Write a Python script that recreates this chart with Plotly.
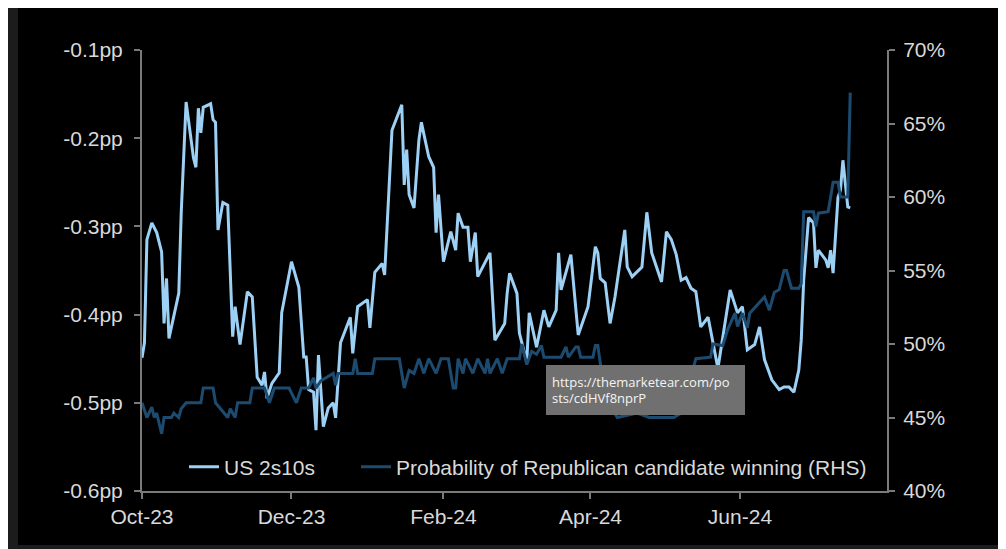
import plotly.graph_objects as go

# ---------------- data ----------------
spread_dates = [
    "2023-10-01", "2023-10-02", "2023-10-03", "2023-10-05", "2023-10-07", "2023-10-09", "2023-10-10",
    "2023-10-11", "2023-10-12", "2023-10-16", "2023-10-17", "2023-10-19", "2023-10-22", "2023-10-23",
    "2023-10-24", "2023-10-25", "2023-10-26", "2023-10-29", "2023-10-30", "2023-10-31", "2023-11-01",
    "2023-11-03", "2023-11-05", "2023-11-07", "2023-11-08", "2023-11-10", "2023-11-13", "2023-11-15",
    "2023-11-17", "2023-11-19", "2023-11-20", "2023-11-21", "2023-11-23", "2023-11-26", "2023-11-27",
    "2023-12-01", "2023-12-04", "2023-12-06", "2023-12-07", "2023-12-08", "2023-12-10", "2023-12-11",
    "2023-12-12", "2023-12-14", "2023-12-16", "2023-12-18", "2023-12-19", "2023-12-21", "2023-12-25",
    "2023-12-26", "2023-12-28", "2024-01-01", "2024-01-02", "2024-01-04", "2024-01-07", "2024-01-08",
    "2024-01-11", "2024-01-15", "2024-01-16", "2024-01-17", "2024-01-18", "2024-01-20", "2024-01-22",
    "2024-01-23", "2024-01-26", "2024-01-28", "2024-01-29", "2024-01-30", "2024-02-01", "2024-02-04",
    "2024-02-06", "2024-02-07", "2024-02-09", "2024-02-11", "2024-02-12", "2024-02-14", "2024-02-15",
    "2024-02-20", "2024-02-22", "2024-02-26", "2024-02-27", "2024-02-28", "2024-03-02", "2024-03-03",
    "2024-03-06", "2024-03-07", "2024-03-10", "2024-03-13", "2024-03-15", "2024-03-18", "2024-03-19",
    "2024-03-20", "2024-03-24", "2024-03-25", "2024-03-27", "2024-03-31", "2024-04-03", "2024-04-04",
    "2024-04-05", "2024-04-07", "2024-04-09", "2024-04-11", "2024-04-15", "2024-04-16", "2024-04-18",
    "2024-04-22", "2024-04-24", "2024-04-26", "2024-04-30", "2024-05-02", "2024-05-04", "2024-05-06",
    "2024-05-08", "2024-05-10", "2024-05-12", "2024-05-14", "2024-05-16", "2024-05-19", "2024-05-21",
    "2024-05-23", "2024-05-28", "2024-05-31", "2024-06-02", "2024-06-04", "2024-06-07", "2024-06-09",
    "2024-06-11", "2024-06-14", "2024-06-17", "2024-06-19", "2024-06-21", "2024-06-23", "2024-06-25",
    "2024-06-26", "2024-06-27", "2024-06-29", "2024-07-01", "2024-07-02", "2024-07-03", "2024-07-06",
    "2024-07-07", "2024-07-08", "2024-07-09", "2024-07-11", "2024-07-12", "2024-07-13", "2024-07-15",
    "2024-07-16",
]
spread_values = [
    -0.449, -0.432, -0.315, -0.296, -0.307, -0.329, -0.410,
    -0.359, -0.427, -0.376, -0.285, -0.159, -0.222, -0.233,
    -0.166, -0.194, -0.165, -0.161, -0.179, -0.182, -0.304,
    -0.273, -0.276, -0.425, -0.391, -0.434, -0.374, -0.380,
    -0.471, -0.480, -0.465, -0.495, -0.478, -0.466, -0.398,
    -0.340, -0.369, -0.448, -0.448, -0.485, -0.488, -0.531,
    -0.446, -0.527, -0.506, -0.500, -0.517, -0.432, -0.403,
    -0.444, -0.391, -0.383, -0.415, -0.352, -0.342, -0.355,
    -0.191, -0.162, -0.253, -0.213, -0.264, -0.279, -0.202,
    -0.182, -0.221, -0.233, -0.307, -0.264, -0.340, -0.306,
    -0.327, -0.285, -0.301, -0.301, -0.340, -0.307, -0.357,
    -0.330, -0.429, -0.410, -0.376, -0.353, -0.376, -0.421,
    -0.454, -0.398, -0.437, -0.395, -0.414, -0.395, -0.330,
    -0.372, -0.332, -0.361, -0.423, -0.391, -0.323, -0.330,
    -0.359, -0.364, -0.410, -0.380, -0.304, -0.346, -0.357,
    -0.346, -0.284, -0.330, -0.363, -0.306, -0.315, -0.332,
    -0.361, -0.358, -0.370, -0.374, -0.414, -0.403, -0.432,
    -0.461, -0.372, -0.398, -0.391, -0.440, -0.434, -0.414,
    -0.451, -0.474, -0.485, -0.482, -0.482, -0.488, -0.463,
    -0.429, -0.361, -0.290, -0.296, -0.347, -0.327, -0.338,
    -0.347, -0.327, -0.353, -0.267, -0.259, -0.225, -0.278,
    -0.279,
]

prob_dates = [
    "2023-10-01", "2023-10-03", "2023-10-05", "2023-10-06", "2023-10-07", "2023-10-09", "2023-10-10",
    "2023-10-13", "2023-10-14", "2023-10-16", "2023-10-17", "2023-10-19", "2023-10-25", "2023-10-26",
    "2023-10-30", "2023-10-31", "2023-11-05", "2023-11-06", "2023-11-08", "2023-11-09", "2023-11-14",
    "2023-11-15", "2023-11-20", "2023-11-21", "2023-11-22", "2023-11-24", "2023-11-30", "2023-12-03",
    "2023-12-05", "2023-12-08", "2023-12-10", "2023-12-11", "2023-12-13", "2023-12-18", "2023-12-19",
    "2023-12-20", "2023-12-26", "2023-12-27", "2023-12-28", "2024-01-03", "2024-01-04", "2024-01-14",
    "2024-01-16", "2024-01-18", "2024-01-20", "2024-01-22", "2024-01-24", "2024-01-26", "2024-01-29",
    "2024-01-31", "2024-02-03", "2024-02-04", "2024-02-05", "2024-02-06", "2024-02-07", "2024-02-09",
    "2024-02-10", "2024-02-13", "2024-02-15", "2024-02-18", "2024-02-19", "2024-02-20", "2024-02-23",
    "2024-02-25", "2024-02-27", "2024-03-03", "2024-03-04", "2024-03-06", "2024-03-08", "2024-03-10",
    "2024-03-12", "2024-03-13", "2024-03-18", "2024-03-20", "2024-03-22", "2024-03-23", "2024-03-26",
    "2024-03-27", "2024-03-28", "2024-04-02", "2024-04-03", "2024-04-04", "2024-04-05", "2024-04-08",
    "2024-04-12", "2024-04-20", "2024-04-25", "2024-05-05", "2024-05-10", "2024-05-12", "2024-05-13",
    "2024-05-14", "2024-05-20", "2024-05-21", "2024-05-25", "2024-05-27", "2024-05-30", "2024-05-31",
    "2024-06-02", "2024-06-04", "2024-06-05", "2024-06-09", "2024-06-11", "2024-06-13", "2024-06-15",
    "2024-06-17", "2024-06-19", "2024-06-20", "2024-06-22", "2024-06-25", "2024-06-26", "2024-06-27",
    "2024-07-01", "2024-07-02", "2024-07-03", "2024-07-07", "2024-07-09", "2024-07-11", "2024-07-12",
    "2024-07-15", "2024-07-16",
]
prob_values = [
    46.0, 45.0, 45.7, 45.0, 45.3, 43.9, 45.0,
    45.0, 45.3, 45.0, 45.6, 46.0, 46.0, 47.0,
    47.0, 46.0, 45.0, 45.6, 45.0, 46.0, 46.0,
    47.0, 47.0, 46.5, 46.0, 47.0, 47.0, 46.0,
    47.0, 47.0, 47.7, 47.0, 47.5, 48.0, 47.2,
    48.0, 48.0, 49.0, 48.0, 48.0, 49.0, 49.0,
    47.0, 48.2, 48.0, 49.0, 48.0, 49.0, 48.0,
    49.0, 49.0, 48.0, 47.0, 47.0, 49.0, 48.0,
    49.0, 48.0, 49.0, 48.0, 49.0, 48.0, 49.0,
    48.0, 49.0, 49.0, 50.0, 48.6, 49.5, 49.3,
    49.9, 49.1, 49.1, 49.1, 49.8, 49.1, 49.8,
    49.8, 49.1, 49.1, 49.9, 49.9, 48.7, 46.0,
    45.0, 45.3, 45.0, 45.0, 45.5, 46.5, 48.4,
    49.0, 49.1, 50.0, 49.9, 51.0, 52.1, 51.2,
    52.1, 51.1, 52.1, 52.8, 53.2, 52.3, 53.5,
    53.7, 55.0, 55.0, 53.8, 53.8, 54.1, 59.0,
    59.0, 58.0, 58.9, 59.0, 61.0, 61.0, 60.0,
    60.0, 67.1,
]

left_tickvals = [-0.6, -0.5, -0.4, -0.3, -0.2, -0.1]
left_ticktext = ["-0.6pp", "-0.5pp", "-0.4pp", "-0.3pp", "-0.2pp", "-0.1pp"]
right_tickvals = [40, 45, 50, 55, 60, 65, 70]
right_ticktext = ["40%", "45%", "50%", "55%", "60%", "65%", "70%"]

series_names = ["US 2s10s", "Probability of Republican candidate winning (RHS)"]
watermark_text = "https://themarketear.com/po<br>sts/cdHVf8nprP"

# ---------------- figure ----------------
W, H = 1006, 549
OFF = 8  # page offset of the figure inside the browser page
# plot area in page pixels
PL, PR, PT, PB = 142, 887, 50, 491
L, R, T, B = PL - OFF, PR - OFF, PT - OFF, PB - OFF

FONT = "Liberation Sans, Arial, sans-serif"
FS = 21
TXT = "#d9d9d9"
AX = "#7a7a7a"
LIGHT = "#9dd0f5"
DARK = "#1d4b70"


def px_x(p):  # page pixel -> paper x
    return (p - OFF - L) / (R - L)


def px_y(p):  # page pixel -> paper y
    return (B - (p - OFF)) / (B - T)


fig = go.Figure()
fig.add_trace(go.Scatter(
    x=prob_dates, y=prob_values, name=series_names[1], yaxis="y2",
    mode="lines", line=dict(color=DARK, width=3), legend="legend2",
))
fig.add_trace(go.Scatter(
    x=spread_dates, y=spread_values, name=series_names[0], yaxis="y",
    mode="lines", line=dict(color=LIGHT, width=3), legend="legend",
))

axis_common = dict(
    showgrid=False, zeroline=False,
    showline=True, linecolor=AX, linewidth=2,
    ticks="outside", ticklen=6, tickcolor=AX, tickwidth=2,
    tickfont=dict(family=FONT, size=FS, color=TXT),
)

legend_common = dict(
    orientation="h", xanchor="left", yanchor="middle",
    bgcolor="rgba(0,0,0,0)", font=dict(family=FONT, size=FS, color=TXT),
)

fig.update_layout(
    width=W, height=H,
    margin=dict(l=L, r=W - R, t=T, b=H - B, pad=0),
    paper_bgcolor="#1c1c1c",
    plot_bgcolor="#000000",
    font=dict(family=FONT, size=FS, color=TXT),
    hovermode=False,
    showlegend=True,
    legend=dict(x=px_x(184), y=px_y(467), **legend_common),
    legend2=dict(x=px_x(356), y=px_y(467), **legend_common),
    xaxis=dict(
        type="date", range=["2023-10-01", "2024-07-31"],
        tick0="2023-10-01", dtick="M2", tickformat="%b-%y",
        **axis_common,
    ),
    yaxis=dict(
        range=[-0.6, -0.1], tickvals=left_tickvals, ticktext=left_ticktext,
        ticklabelstandoff=7, **axis_common,
    ),
    yaxis2=dict(
        range=[40, 70], tickvals=right_tickvals, ticktext=right_ticktext,
        overlaying="y", side="right", ticklabelstandoff=4, **axis_common,
    ),
    shapes=[dict(
        type="rect", xref="paper", yref="paper", layer="below",
        x0=px_x(18), x1=px_x(1000), y0=px_y(545), y1=px_y(-10),
        fillcolor="#000000", line=dict(width=0),
    )],
    annotations=[dict(
        text=watermark_text, xref="paper", yref="paper",
        x=px_x(546), y=px_y(365), xanchor="left", yanchor="top",
        showarrow=False, align="left",
        font=dict(family="Open Sans, Noto Sans, sans-serif", size=13, color="#f4f4f4"),
        bgcolor="#707070", bordercolor="#707070", borderwidth=1, borderpad=5,
        width=187, height=38,
    )],
)

fig.write_html("out.html")
